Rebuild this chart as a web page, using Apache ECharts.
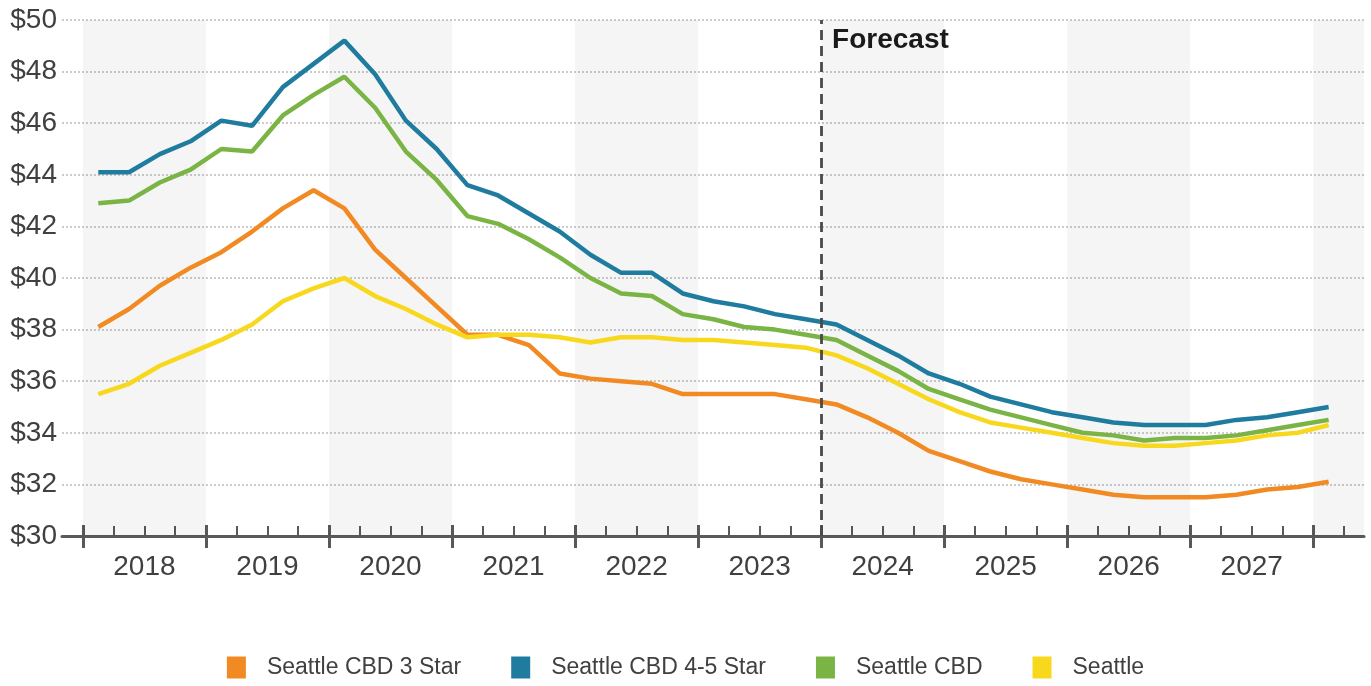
<!DOCTYPE html>
<html>
<head>
<meta charset="utf-8">
<title>Seattle Office Rents</title>
<script src="https://cdn.jsdelivr.net/npm/echarts@6/dist/echarts.min.js"></script>
<style>
  html, body { margin: 0; padding: 0; background: #ffffff; }
  #chart { width: 1371px; height: 686px; }
</style>
</head>
<body>
<div id="chart"></div>
<script>
// Quarterly asking rents, 2018 Q1 through 2028 Q1 (forecast from 2024 Q1)
const years = ['2018', '2019', '2020', '2021', '2022', '2023', '2024', '2025', '2026', '2027'];
const quarters = [];
for (let y = 2018; y <= 2028; y++) {
  for (let q = 1; q <= 4; q++) {
    if (y === 2028 && q > 1) break;
    quarters.push(y + ' Q' + q);
  }
}
const forecastStart = '2024 Q1';

const cbd3Star = [
  38.1, 38.8, 39.7, 40.4, 41.0, 41.8, 42.7, 43.4,
  42.7, 41.1, 40.0, 38.9, 37.8, 37.8, 37.4, 36.3,
  36.1, 36.0, 35.9, 35.5, 35.5, 35.5, 35.5, 35.3,
  35.1, 34.6, 34.0, 33.3, 32.9, 32.5, 32.2, 32.0,
  31.8, 31.6, 31.5, 31.5, 31.5, 31.6, 31.8, 31.9,
  32.1
];
const cbd45Star = [
  44.1, 44.1, 44.8, 45.3, 46.1, 45.9, 47.4, 48.3,
  49.2, 47.9, 46.1, 45.0, 43.6, 43.2, 42.5, 41.8,
  40.9, 40.2, 40.2, 39.4, 39.1, 38.9, 38.6, 38.4,
  38.2, 37.6, 37.0, 36.3, 35.9, 35.4, 35.1, 34.8,
  34.6, 34.4, 34.3, 34.3, 34.3, 34.5, 34.6, 34.8,
  35.0
];
const cbdAll = [
  42.9, 43.0, 43.7, 44.2, 45.0, 44.9, 46.3, 47.1,
  47.8, 46.6, 44.9, 43.8, 42.4, 42.1, 41.5, 40.8,
  40.0, 39.4, 39.3, 38.6, 38.4, 38.1, 38.0, 37.8,
  37.6, 37.0, 36.4, 35.7, 35.3, 34.9, 34.6, 34.3,
  34.0, 33.9, 33.7, 33.8, 33.8, 33.9, 34.1, 34.3,
  34.5
];
const seattleAll = [
  35.5, 35.9, 36.6, 37.1, 37.6, 38.2, 39.1, 39.6,
  40.0, 39.3, 38.8, 38.2, 37.7, 37.8, 37.8, 37.7,
  37.5, 37.7, 37.7, 37.6, 37.6, 37.5, 37.4, 37.3,
  37.0, 36.5, 35.9, 35.3, 34.8, 34.4, 34.2, 34.0,
  33.8, 33.6, 33.5, 33.5, 33.6, 33.7, 33.9, 34.0,
  34.3
];

const seriesNames = ['Seattle CBD 3 Star', 'Seattle CBD 4-5 Star', 'Seattle CBD', 'Seattle'];
const seriesValues = [cbd3Star, cbd45Star, cbdAll, seattleAll];
const seriesColors = ['#f28a24', '#1f7c9f', '#7ab445', '#f8d81c'];

// x is measured in quarters; each quarter's point sits in the middle of its slot
const xMin = -0.68;
const xMax = 41.65;
const yearBoundaries = years.map((_, k) => 4 * k).concat([40]);
const quarterTicks = [];
for (let i = 1; i <= 41; i++) if (i % 4 !== 0) quarterTicks.push(i);
const yearCenters = years.map((_, k) => 4 * k + 2);

// shaded bands on alternate years (2018, 2020, ... and the start of 2028)
const bands = [];
for (let k = 0; k <= years.length; k += 2) {
  bands.push([{ xAxis: 4 * k }, { xAxis: Math.min(4 * k + 4, xMax) }]);
}

const axisColor = '#595959';
const textColor = '#404040';
const fontFamily = 'Liberation Sans, Arial, sans-serif';

const baseX = {
  type: 'value', min: xMin, max: xMax, gridIndex: 0, position: 'bottom',
  splitLine: { show: false }, axisLabel: { show: false },
  axisLine: { show: false }, axisTick: { show: false }
};

const series = seriesNames.map((name, s) => ({
  name: name,
  type: 'line',
  xAxisIndex: 0,
  yAxisIndex: 0,
  data: seriesValues[s].map((v, i) => [i + 0.5, v]),
  showSymbol: false,
  symbol: 'none',
  lineStyle: { color: seriesColors[s], width: 4.5 },
  itemStyle: { color: seriesColors[s] },
  z: 3,
  silent: true
}));

series[0].markArea = {
  silent: true,
  itemStyle: { color: 'rgba(0,0,0,0.04)' },
  data: bands
};
series[0].markLine = {
  silent: true,
  symbol: 'none',
  label: { show: false },
  lineStyle: { color: '#4a4a4a', width: 2.8, type: [10, 6] },
  data: [{ xAxis: quarters.indexOf(forecastStart) }]
};
series[0].markPoint = {
  silent: true,
  symbol: 'rect',
  symbolSize: 0.01,
  itemStyle: { color: 'transparent' },
  label: {
    show: true,
    formatter: 'Forecast',
    position: [11, 6],
    align: 'left',
    verticalAlign: 'top',
    fontFamily: fontFamily,
    fontWeight: 'bold',
    fontSize: 28,
    color: '#1a1a1a'
  },
  data: [{ coord: [quarters.indexOf(forecastStart), 50] }]
};

const option = {
  animation: false,
  backgroundColor: '#ffffff',
  grid: { left: 62, right: 7, top: 20, bottom: 150, containLabel: false },
  legend: {
    bottom: 2,
    left: 'center',
    icon: 'rect',
    itemWidth: 19,
    itemHeight: 22,
    itemGap: 50,
    selectedMode: false,
    textStyle: { fontFamily: fontFamily, fontSize: 23, color: textColor, padding: [0, 0, 0, 16] },
    data: seriesNames
  },
  xAxis: [
    Object.assign({}, baseX, {
      axisLine: { show: true, lineStyle: { color: axisColor, width: 3 } },
      axisTick: { show: true, inside: true, length: 11, customValues: yearBoundaries,
                  lineStyle: { color: axisColor, width: 3 } }
    }),
    Object.assign({}, baseX, {
      axisTick: { show: true, inside: false, length: 12, customValues: yearBoundaries,
                  lineStyle: { color: axisColor, width: 3 } }
    }),
    Object.assign({}, baseX, {
      axisTick: { show: true, inside: true, length: 10, customValues: quarterTicks,
                  lineStyle: { color: axisColor, width: 2 } },
      axisLabel: {
        show: true,
        customValues: yearCenters,
        formatter: (v) => years[Math.round((v - 2) / 4)],
        fontFamily: fontFamily,
        fontSize: 28,
        color: textColor,
        margin: 17
      }
    })
  ],
  yAxis: {
    type: 'value',
    min: 30,
    max: 50,
    interval: 2,
    axisLine: { show: false },
    axisTick: { show: false },
    axisLabel: {
      formatter: (v) => '$' + v,
      fontFamily: fontFamily,
      fontSize: 28,
      color: textColor,
      margin: 5
    },
    splitLine: { show: true, lineStyle: { color: '#bcbcbc', width: 1.5, type: [2, 2] } }
  },
  series: series
};

const chart = echarts.init(document.getElementById('chart'), null, { renderer: 'canvas' });
chart.setOption(option);
</script>
</body>
</html>
